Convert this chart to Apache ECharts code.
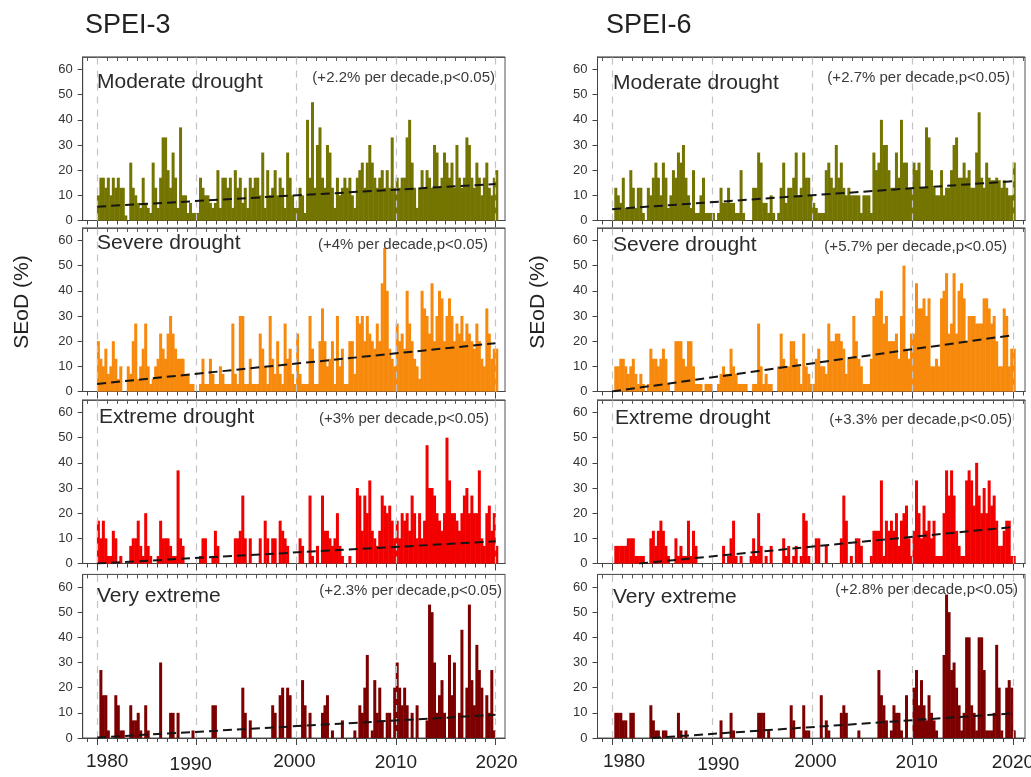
<!DOCTYPE html>
<html>
<head>
<meta charset="utf-8">
<script src="https://cdn.jsdelivr.net/npm/echarts@6/dist/echarts.min.js"></script>
<style>
html,body{margin:0;padding:0;background:#fff}
#main{width:1031px;height:777px}
</style>
</head>
<body>
<div id="main"></div>
<script>
// quarterly SEoD (%) values, 1980Q1 .. 2020Q1
var spei3Moderate = [
 10,17,17,13, 17,10,17,13, 17,13,13,2, 0,23,13,10, 7,5,17,7, 5,3,23,13, 5,17,33,33, 20,13,27,17, 5,37,10,10, 3,7,3,3,
 3,17,13,10, 10,7,5,7, 20,5,17,17, 13,17,5,20, 13,17,7,13, 5,17,13,17, 17,10,27,5, 20,10,13,20, 10,17,13,5, 27,17,10,5,
 5,13,10,3, 40,17,47,13, 30,37,17,13, 30,27,13,5, 17,10,13,17, 13,17,10,5, 17,20,23,13, 23,30,23,17, 13,17,20,13, 20,13,33,13,
 17,13,17,17, 33,40,23,13, 5,13,20,13, 20,17,13,30, 27,13,17,27, 23,17,23,13, 30,17,13,17, 33,30,17,13, 23,17,10,17, 23,13,10,17,
 20];
var spei3Severe = [
 20,13,10,17, 7,10,20,13, 5,10,0,0, 10,7,20,27, 5,10,17,27, 10,3,5,10, 13,23,17,13, 23,30,23,17, 13,13,13,7, 7,3,3,0,
 0,3,13,3, 3,13,7,3, 3,10,7,3, 3,3,27,7, 3,30,30,3, 3,13,3,3, 3,23,17,10, 3,30,13,7, 20,7,3,27, 13,17,7,3,
 23,7,3,3, 3,30,17,3, 3,20,33,20, 10,13,20,3, 30,10,17,3, 3,20,20,7, 30,27,30,20, 30,23,20,17, 27,20,43,57, 40,17,13,10,
 27,20,23,17, 40,27,20,13, 10,5,40,33, 30,23,43,20, 30,40,37,20, 30,37,30,20, 27,23,30,20, 27,23,20,17, 27,20,13,10, 33,23,13,17,
 17];
var spei3Extreme = [
 17,10,17,10, 3,3,13,10, 0,3,0,0, 0,7,10,10, 17,7,3,20, 7,3,0,0, 3,17,10,10, 10,7,3,3, 37,10,7,0, 0,0,0,0,
 0,3,10,10, 0,0,3,13, 7,0,0,0, 0,0,0,10, 10,13,27,10, 0,10,0,0, 0,10,0,17, 10,0,10,10, 0,17,13,10, 7,0,0,0,
 0,10,7,0, 0,27,3,0, 7,0,27,13, 13,10,7,10, 20,7,3,0, 0,3,0,0, 30,27,13,27, 20,33,13,10, 7,13,27,23, 20,23,17,10,
 17,10,20,17, 20,13,27,20, 10,20,10,17, 47,30,30,27, 20,17,13,20, 50,33,20,20, 17,13,20,27, 30,20,27,20, 20,37,10,7, 20,23,13,20,
 7];
var spei3VeryExtreme = [
 0,27,17,17, 3,0,0,17, 13,3,3,0, 0,13,7,7, 10,3,0,13, 3,0,0,0, 0,30,0,0, 0,10,10,0, 10,0,0,0, 0,0,3,0,
 0,0,0,0, 0,0,13,13, 0,0,0,0, 0,0,0,0, 0,0,20,10, 0,7,0,0, 0,0,0,0, 0,0,13,10, 0,17,20,0, 20,17,0,0,
 0,0,23,13, 0,10,0,0, 0,0,10,13, 17,0,3,0, 0,0,7,0, 0,0,0,3, 0,13,10,20, 33,0,3,23, 10,20,7,0, 10,10,0,20,
 30,20,13,20, 13,0,10,0, 13,0,0,0, 7,53,50,30, 10,17,23,10, 0,33,17,30, 0,10,43,0, 20,53,23,13, 37,27,20,0, 17,10,27,3,
 0];
var spei6Moderate = [
 0,13,10,7, 17,5,5,20, 13,5,13,13, 3,0,13,10, 17,23,17,10, 23,17,5,10, 20,17,27,23, 30,17,10,5, 20,3,3,10, 17,3,3,3,
 3,0,3,13, 7,7,13,7, 7,3,3,20, 3,0,0,0, 13,13,27,23, 7,7,3,10, 3,0,3,13, 23,7,13,13, 17,27,10,13, 27,17,17,10,
 7,5,3,3, 3,20,23,17, 13,30,17,23, 13,10,13,10, 10,10,10,3, 10,10,10,3, 27,20,23,40, 30,30,20,13, 13,27,17,40, 23,23,13,13,
 23,20,23,13, 13,37,33,20, 13,10,10,20, 10,13,13,20, 30,33,17,17, 23,17,20,13, 13,27,43,17, 13,23,17,16, 16,17,16,13, 16,13,10,10,
 23];
var spei6Severe = [
 0,10,10,13, 13,10,7,10, 13,7,3,7, 3,0,3,17, 13,13,10,13, 17,13,3,0, 0,20,20,20, 13,10,20,20, 10,3,3,3, 0,3,3,3,
 0,0,3,7, 10,7,7,17, 10,7,3,3, 3,3,0,0, 3,3,27,10, 3,7,3,3, 0,0,10,23, 13,10,10,20, 20,13,10,3, 23,10,7,3,
 3,13,17,10, 10,7,27,20, 20,23,23,20, 17,7,13,13, 30,20,13,10, 3,3,3,13, 30,37,37,40, 27,30,20,20, 20,23,13,30, 50,17,13,23,
 23,43,33,33, 37,30,37,10, 10,13,10,37, 40,47,23,27, 47,23,40,43, 37,20,30,30, 30,27,27,27, 37,37,33,27, 30,20,10,10, 33,30,10,17,
 17];
var spei6Extreme = [
 0,7,7,7, 7,7,10,10, 10,3,3,3, 3,0,0,10, 13,7,13,17, 13,7,3,0, 0,10,3,7, 3,3,17,3, 13,7,0,0, 0,0,0,0,
 0,0,0,0, 7,0,3,10, 17,3,0,3, 0,0,0,3, 10,3,20,7, 0,3,0,7, 0,0,0,0, 10,3,7,0, 3,7,0,3, 20,17,3,0,
 0,10,10,0, 0,7,0,0, 0,0,0,10, 27,17,0,3, 0,10,10,7, 0,0,0,3, 13,13,13,33, 3,17,13,17, 13,20,7,17, 20,23,10,3,
 13,33,20,10, 23,13,17,10, 17,3,3,3, 20,37,27,37, 27,13,7,3, 3,33,37,33, 23,40,27,20, 30,20,33,23, 27,17,7,7, 13,17,17,3,
 3];
var spei6VeryExtreme = [
 0,10,10,10, 7,7,0,10, 10,0,0,0, 0,0,0,13, 7,3,3,0, 3,3,0,0, 0,0,10,3, 0,3,0,0, 0,0,0,0, 0,0,0,0,
 0,0,0,7, 0,0,0,10, 3,0,0,0, 0,0,0,0, 0,0,10,10, 10,0,3,0, 0,0,0,0, 0,0,0,13, 7,0,0,0, 13,3,3,0,
 0,0,0,17, 0,7,3,0, 0,0,0,10, 13,10,0,0, 0,0,3,0, 0,0,0,0, 0,0,27,17, 13,7,0,3, 13,10,10,3, 0,17,0,0,
 20,27,13,23, 13,7,17,10, 7,3,0,0, 33,57,50,27, 30,20,13,3, 10,40,40,13, 10,3,40,40, 27,3,3,3, 10,37,20,3, 0,20,23,20,
 3];

var panelNames = ['Moderate drought', 'Severe drought', 'Extreme drought', 'Very extreme'];
var spei3Notes = ['(+2.2% per decade,p<0.05)', '(+4% per decade,p<0.05)', '(+3% per decade,p<0.05)', '(+2.3% per decade,p<0.05)'];
var spei6Notes = ['(+2.7% per decade,p<0.05)', '(+5.7% per decade,p<0.05)', '(+3.3% per decade,p<0.05)', '(+2.8% per decade,p<0.05)'];
// trend line end points: [x0, y0, x1, y1]
var spei3Trends = [[1980, 5.5, 2020, 14.5], [1980, 3, 2020, 19.2], [1980, 0, 2020, 8.8], [1980, 0.2, 2020, 9.2]];
var spei6Trends = [[1980, 4.5, 2020, 15.6], [1980, 0, 2020, 22.4], [1982.7, 0, 2020, 14.5], [1984, 0, 2020, 9.8]];
var decades = [1980, 1990, 2000, 2010, 2020];
var yTicks = [0, 10, 20, 30, 40, 50, 60];

var colors = ['#747400', '#f7890c', '#f20000', '#7d0000'];
var font = "'Liberation Sans', Arial, sans-serif";

var columns = [
    {title: 'SPEI-3', data: [spei3Moderate, spei3Severe, spei3Extreme, spei3VeryExtreme], notes: spei3Notes, trends: spei3Trends,
     left: 82.7, width: 422.3, min: 1978.55, max: 2020.95, titleX: 85,
     nameX: [97, 97, 99, 97], nameY: [82, 243, 417, 596], noteX: [495, 488, 489, 502], noteY: [78, 245, 419, 591],
     shift: {1980: [10, 0], 1990: [-6, 3], 2000: [-2, 0], 2010: [0, 1], 2020: [1, 1]}},
    {title: 'SPEI-6', data: [spei6Moderate, spei6Severe, spei6Extreme, spei6VeryExtreme], notes: spei6Notes, trends: spei6Trends,
     left: 597.5, width: 427.5, min: 1978.55, max: 2021.2, titleX: 606,
     nameX: [613, 613, 615, 613], nameY: [83, 245, 418, 597], noteX: [1010, 1007, 1012, 1018], noteY: [78, 247, 420, 590],
     shift: {1980: [12, 0], 1990: [6, 3], 2000: [3, 0], 2010: [4, 1], 2020: [0, 1]}}
];
var zeroY = [220.5, 391.5, 563.5, 738];
var plotH = 163.6;

var yearTicks = [];
for (var yr = 1979; yr <= 2021; yr++) yearTicks.push(yr);

var grids = [], xAxes = [], yAxes = [], series = [], graphics = [];

columns.forEach(function (col, c) {
    graphics.push({type: 'text', x: col.titleX, y: 26, style: {text: col.title, fontSize: 27, fontFamily: font, fill: '#222', align: 'left', verticalAlign: 'middle'}});
    graphics.push({type: 'text', x: c === 0 ? 22 : 538, y: 302, rotation: Math.PI / 2,
        style: {text: 'SEoD (%)', fontSize: 21, fontFamily: font, fill: '#222', align: 'center', verticalAlign: 'middle'}});
    var rich = {};
    decades.forEach(function (d) {
        var s = col.shift[d];
        rich['y' + d] = {fontSize: 19, fontFamily: font, color: '#222',
            padding: [s[1], s[0] < 0 ? -2 * s[0] : 0, 0, s[0] > 0 ? 2 * s[0] : 0]};
    });
    for (var r = 0; r < 4; r++) {
        var k = c * 4 + r;
        var last = r === 3;
        grids.push({left: col.left, width: col.width, top: zeroY[r] - plotH, height: plotH,
            show: true, borderColor: '#555', borderWidth: 1, backgroundColor: 'transparent', outerBoundsMode: 'none'});
        // data axis: yearly ticks, decade labels
        xAxes.push({type: 'value', gridIndex: k, min: col.min, max: col.max, position: 'bottom',
            axisLine: {show: true, onZero: false, lineStyle: {color: '#444', width: 1}},
            axisTick: {show: true, customValues: yearTicks, length: 4, lineStyle: {color: '#444'}},
            axisLabel: {show: last, customValues: decades, margin: 14,
                formatter: function (v) { return '{y' + v + '|' + v + '}'; }, rich: rich},
            splitLine: {show: false}});
        // longer decade ticks
        xAxes.push({type: 'value', gridIndex: k, min: col.min, max: col.max, position: 'bottom',
            axisLine: {show: true, onZero: false, lineStyle: {color: '#444', width: 1}},
            axisLabel: {show: false, customValues: decades}, splitLine: {show: false},
            axisTick: {show: true, customValues: decades, length: 7, lineStyle: {color: '#444'}}});
        // inner ticks along the top frame
        xAxes.push({type: 'value', gridIndex: k, min: col.min, max: col.max, position: 'top',
            axisLine: {show: true, onZero: false, lineStyle: {color: '#555', width: 1}},
            axisLabel: {show: false, customValues: yearTicks}, splitLine: {show: false},
            axisTick: {show: true, inside: true, customValues: yearTicks, length: 4, lineStyle: {color: '#555'}}});
        yAxes.push({type: 'value', gridIndex: k, min: 0, max: 65,
            axisLine: {show: true, lineStyle: {color: '#444'}},
            axisTick: {show: true, customValues: yTicks, length: 5, lineStyle: {color: '#444'}},
            axisLabel: {customValues: yTicks, fontSize: 13, fontFamily: font, color: '#333', margin: 10},
            splitLine: {show: false}});
        var vals = col.data[r];
        series.push({type: 'bar', xAxisIndex: k * 3, yAxisIndex: k, barWidth: 3,
            data: vals.map(function (v, i) { return [1980 + i / 4 + 0.125, v]; }),
            itemStyle: {color: colors[r]}, silent: true, animation: false,
            markLine: {silent: true, symbol: ['none', 'none'], label: {show: false},
                lineStyle: {color: '#c4c4c4', type: [7, 6], width: 1.2},
                data: decades.map(function (d) { return {xAxis: d}; })}});
        var t = col.trends[r];
        series.push({type: 'line', xAxisIndex: k * 3, yAxisIndex: k, data: [[t[0], t[1]], [t[2], t[3]]],
            symbol: 'none', silent: true, animation: false, z: 5,
            lineStyle: {color: '#151515', width: 2, type: [9, 5]}});
        graphics.push({type: 'text', x: col.nameX[r], y: col.nameY[r], z: 10,
            style: {text: panelNames[r], fontSize: 21, fontFamily: font, fill: '#2a2a2a', align: 'left', verticalAlign: 'middle'}});
        graphics.push({type: 'text', x: col.noteX[r], y: col.noteY[r], z: 10,
            style: {text: col.notes[r], fontSize: 15, fontFamily: font, fill: '#3a3a3a', align: 'right', verticalAlign: 'middle'}});
    }
});

var chart = echarts.init(document.getElementById('main'));
chart.setOption({
    backgroundColor: '#fff',
    animation: false,
    grid: grids,
    xAxis: xAxes,
    yAxis: yAxes,
    series: series,
    graphic: graphics
});
</script>
</body>
</html>
